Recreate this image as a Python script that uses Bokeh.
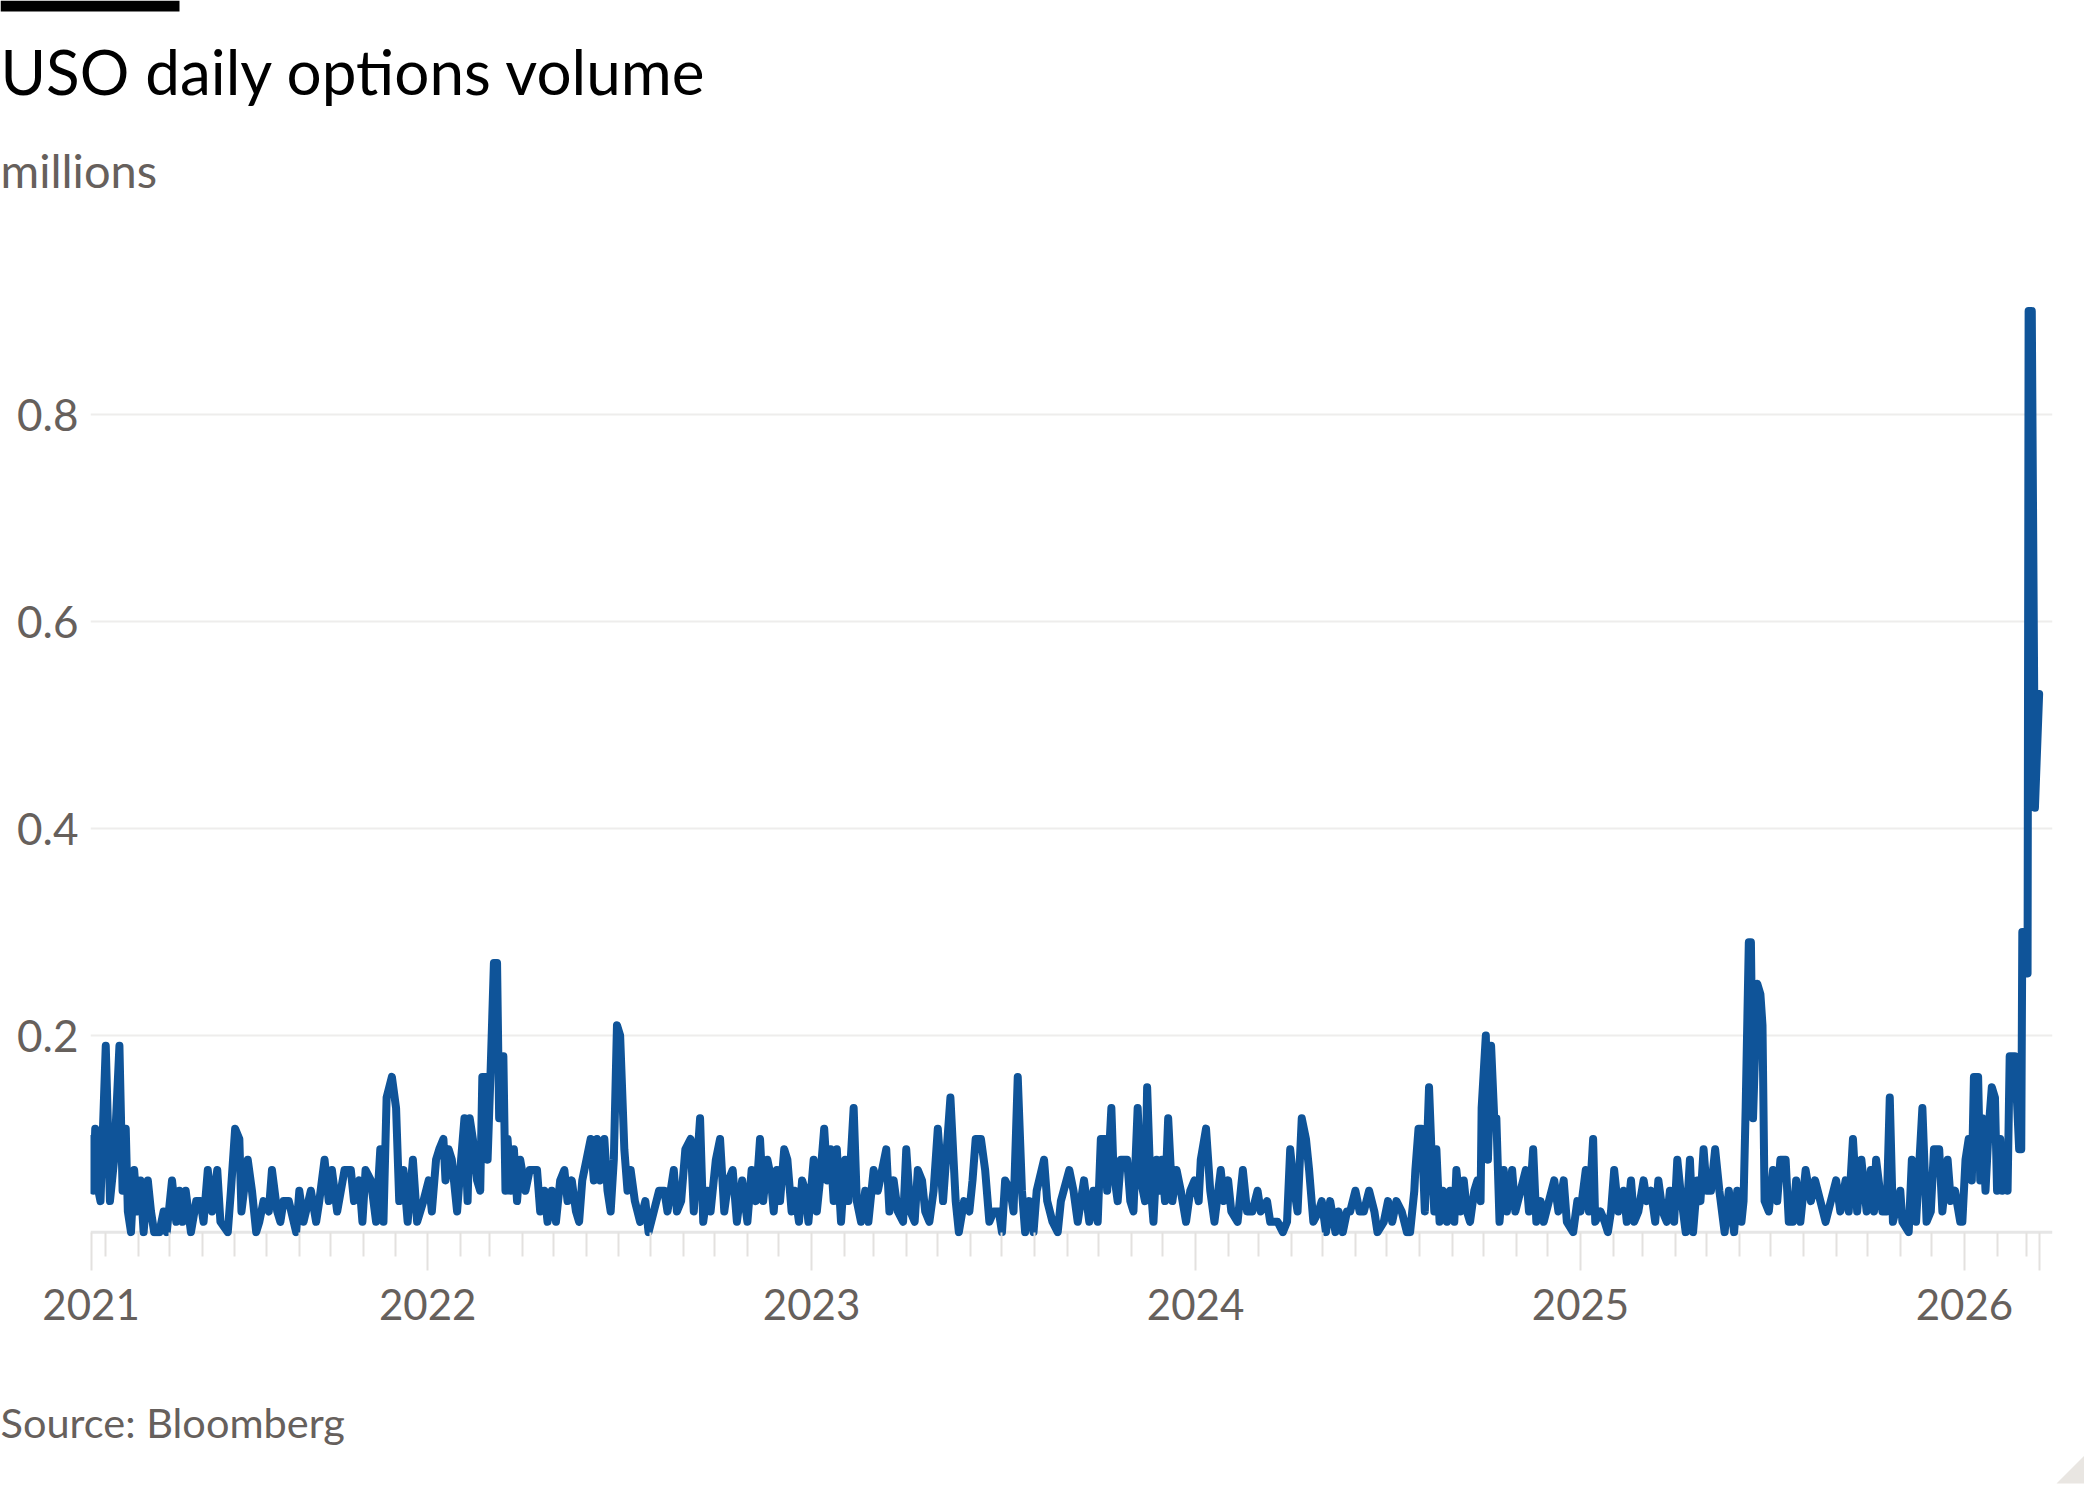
import pandas as pd
from bokeh.plotting import figure
from bokeh.models import ColumnDataSource, FixedTicker, Label, Span, BoxAnnotation, Range1d
from bokeh.layouts import column
from bokeh.embed import file_html
from bokeh.resources import INLINE

# ---------------- data ----------------
base_date = "2021-01-01"          # day offsets are counted from this date

day_offsets = [
    45, 46, 47, 49, 52, 54, 59, 63, 67, 72, 75, 78, 80, 83, 86, 89, 92, 95, 99, 102,
    105, 110, 114, 117, 122, 126, 129, 132, 135, 140, 145, 149, 152, 156, 160, 165, 168, 175, 178, 182,
    186, 188, 194, 198, 202, 205, 209, 214, 217, 222, 225, 228, 233, 240, 243, 247, 254, 259, 262, 267,
    271, 274, 279, 286, 292, 295, 300, 303, 306, 311, 316, 320, 323, 326, 331, 335, 338, 342, 346, 351,
    355,
    361, 366, 369, 373, 376, 380, 382, 385, 388, 393, 396, 400, 403, 405, 408, 412, 415, 417, 420, 422,
    425, 428, 431, 433, 437, 439, 441, 444, 447, 450, 453, 458, 462, 469, 472, 476, 479, 483, 487, 491,
    495, 498, 502, 506, 509, 512, 516, 520, 523, 526, 529, 533, 536, 539, 542, 545, 548, 552, 555, 558,
    562, 567, 572, 575, 580, 585, 590, 593, 599, 602, 606, 610, 615, 618, 624, 627, 631, 634, 639, 643,
    647, 651, 655, 659, 664, 669,
    673, 677, 681, 684, 688, 691, 694, 697, 700, 704, 707, 711, 714, 718, 721, 724, 727, 732, 735, 738,
    742, 745, 748, 751, 754, 758, 762, 765, 770, 773, 777, 781, 784, 789, 793, 797, 801, 804, 808, 812,
    817, 820, 824, 828, 831, 835, 838, 842, 846, 850, 855, 862, 867, 870, 875, 880, 883, 886, 891, 895,
    899, 903, 908, 911, 914, 919, 922, 926, 930, 933, 937, 941, 944, 951, 954, 959, 964, 967, 975, 979,
    983,
    989, 994, 998, 1002, 1005, 1009, 1011, 1015, 1017, 1021, 1024, 1030, 1033, 1036, 1040, 1043, 1047, 1049, 1052, 1055,
    1058, 1061, 1063, 1066, 1069, 1073, 1077, 1081, 1086, 1090, 1094, 1098, 1100, 1105, 1109, 1113, 1119, 1122, 1126, 1129,
    1135, 1140, 1144, 1149, 1154, 1157, 1163, 1166, 1173, 1178, 1182, 1185, 1189, 1192, 1196, 1200, 1203, 1207, 1212, 1215,
    1219, 1223, 1228, 1231, 1235, 1239, 1242, 1247, 1251, 1255, 1260, 1265, 1268, 1274, 1278, 1282, 1286, 1291, 1296,
    1299, 1303, 1304, 1307, 1310, 1313, 1317, 1320, 1322, 1324, 1327, 1330, 1334, 1337, 1341, 1343, 1347, 1350, 1353, 1356,
    1360, 1363, 1366, 1367, 1371, 1373, 1376, 1379, 1381, 1384, 1388, 1391, 1396, 1399, 1404, 1409, 1412, 1416, 1419, 1423,
    1426, 1431, 1436, 1440, 1445, 1448, 1454, 1458, 1461, 1466, 1469, 1473, 1475, 1480, 1484, 1487, 1490, 1493, 1497, 1502,
    1505, 1509, 1512, 1516, 1521, 1524, 1528, 1532, 1535, 1539, 1543, 1546, 1550, 1553, 1556, 1561, 1565, 1568, 1572, 1575,
    1578, 1581, 1585, 1589, 1593, 1598, 1602, 1607, 1610,
    1614, 1616, 1618, 1621, 1623, 1625, 1629, 1632, 1634, 1636, 1640, 1644, 1648, 1651, 1656, 1659, 1663, 1666, 1670, 1675,
    1680, 1684, 1689, 1694, 1699, 1704, 1708, 1713, 1716, 1720, 1724, 1728, 1733, 1737, 1740, 1742, 1748, 1752, 1755, 1758,
    1765, 1767, 1773, 1776, 1780, 1786, 1790, 1794, 1797, 1802, 1805, 1810, 1813, 1817, 1822,
    1824, 1827, 1830, 1833, 1835, 1839, 1841, 1843, 1846, 1849, 1852, 1855, 1857, 1860, 1862, 1864, 1867, 1869, 1874, 1878,
    1880, 1881, 1882, 1886, 1887, 1890, 1893, 1897,
]

volume_mn = [
    0.10, 0.09, 0.05, 0.11, 0.05, 0.04, 0.19, 0.04, 0.08, 0.19, 0.05, 0.11, 0.03, 0.01, 0.07, 0.03, 0.06, 0.01, 0.06, 0.03,
    0.01, 0.01, 0.03, 0.01, 0.06, 0.02, 0.05, 0.02, 0.05, 0.01, 0.04, 0.04, 0.02, 0.07, 0.03, 0.07, 0.02, 0.01, 0.05, 0.11,
    0.10, 0.03, 0.08, 0.05, 0.01, 0.02, 0.04, 0.03, 0.07, 0.03, 0.02, 0.04, 0.04, 0.01, 0.05, 0.02, 0.05, 0.02, 0.04, 0.08,
    0.04, 0.07, 0.03, 0.07, 0.07, 0.04, 0.06, 0.02, 0.07, 0.06, 0.02, 0.09, 0.02, 0.14, 0.16, 0.13, 0.04, 0.07, 0.02, 0.08,
    0.02,
    0.04, 0.06, 0.03, 0.08, 0.09, 0.10, 0.06, 0.09, 0.08, 0.03, 0.07, 0.12, 0.04, 0.12, 0.10, 0.06, 0.05, 0.16, 0.16, 0.08,
    0.17, 0.27, 0.27, 0.12, 0.18, 0.05, 0.10, 0.05, 0.09, 0.04, 0.08, 0.05, 0.07, 0.07, 0.03, 0.05, 0.02, 0.05, 0.02, 0.06,
    0.07, 0.04, 0.06, 0.03, 0.02, 0.06, 0.08, 0.10, 0.06, 0.10, 0.06, 0.10, 0.05, 0.03, 0.08, 0.21, 0.20, 0.09, 0.05, 0.07,
    0.04, 0.02, 0.04, 0.01, 0.03, 0.05, 0.05, 0.03, 0.07, 0.03, 0.04, 0.09, 0.10, 0.03, 0.12, 0.02, 0.05, 0.03, 0.08, 0.10,
    0.03, 0.06, 0.07, 0.02, 0.06, 0.02,
    0.07, 0.04, 0.10, 0.04, 0.08, 0.065, 0.03, 0.07, 0.04, 0.09, 0.08, 0.03, 0.05, 0.02, 0.06, 0.05, 0.02, 0.08, 0.03, 0.06,
    0.11, 0.06, 0.09, 0.04, 0.09, 0.02, 0.08, 0.04, 0.13, 0.04, 0.02, 0.05, 0.02, 0.07, 0.05, 0.07, 0.09, 0.03, 0.06, 0.03,
    0.02, 0.09, 0.03, 0.02, 0.07, 0.06, 0.03, 0.02, 0.05, 0.11, 0.04, 0.14, 0.04, 0.01, 0.04, 0.03, 0.06, 0.10, 0.10, 0.07,
    0.02, 0.03, 0.03, 0.01, 0.06, 0.05, 0.03, 0.16, 0.05, 0.01, 0.04, 0.01, 0.05, 0.08, 0.04, 0.02, 0.01, 0.04, 0.07, 0.05,
    0.02,
    0.06, 0.02, 0.05, 0.02, 0.10, 0.10, 0.05, 0.13, 0.07, 0.04, 0.08, 0.08, 0.04, 0.03, 0.13, 0.06, 0.04, 0.15, 0.06, 0.02,
    0.08, 0.05, 0.08, 0.04, 0.12, 0.04, 0.07, 0.05, 0.02, 0.05, 0.06, 0.04, 0.08, 0.11, 0.05, 0.02, 0.07, 0.04, 0.06, 0.03,
    0.02, 0.07, 0.03, 0.03, 0.05, 0.03, 0.04, 0.02, 0.02, 0.01, 0.02, 0.09, 0.05, 0.03, 0.12, 0.10, 0.07, 0.02, 0.03, 0.04,
    0.01, 0.04, 0.01, 0.03, 0.01, 0.03, 0.03, 0.05, 0.03, 0.03, 0.05, 0.03, 0.01, 0.02, 0.04, 0.02, 0.04, 0.03, 0.01,
    0.01, 0.05, 0.07, 0.11, 0.11, 0.03, 0.15, 0.07, 0.03, 0.09, 0.02, 0.05, 0.02, 0.05, 0.02, 0.07, 0.03, 0.06, 0.03, 0.02,
    0.05, 0.06, 0.04, 0.13, 0.20, 0.08, 0.19, 0.12, 0.12, 0.02, 0.07, 0.03, 0.07, 0.03, 0.05, 0.07, 0.03, 0.09, 0.02, 0.04,
    0.02, 0.04, 0.06, 0.03, 0.06, 0.02, 0.01, 0.04, 0.03, 0.07, 0.03, 0.10, 0.02, 0.03, 0.02, 0.01, 0.03, 0.07, 0.03, 0.05,
    0.02, 0.06, 0.02, 0.03, 0.06, 0.04, 0.05, 0.02, 0.06, 0.03, 0.02, 0.05, 0.02, 0.08, 0.05, 0.01, 0.08, 0.01, 0.06, 0.04,
    0.09, 0.05, 0.05, 0.09, 0.05, 0.01, 0.05, 0.01, 0.05,
    0.02, 0.04, 0.13, 0.29, 0.29, 0.12, 0.25, 0.24, 0.21, 0.04, 0.03, 0.07, 0.04, 0.08, 0.08, 0.02, 0.02, 0.06, 0.02, 0.07,
    0.04, 0.06, 0.04, 0.02, 0.04, 0.06, 0.03, 0.06, 0.03, 0.10, 0.03, 0.08, 0.03, 0.07, 0.03, 0.08, 0.03, 0.03, 0.14, 0.02,
    0.05, 0.02, 0.01, 0.08, 0.02, 0.13, 0.02, 0.03, 0.09, 0.09, 0.03, 0.08, 0.04, 0.05, 0.02,
    0.02, 0.08, 0.10, 0.06, 0.16, 0.16, 0.06, 0.12, 0.05, 0.11, 0.15, 0.14, 0.05, 0.10, 0.05, 0.09, 0.05, 0.18, 0.18, 0.09,
    0.09, 0.30, 0.30, 0.26, 0.90, 0.90, 0.42, 0.53,
]

y_tick_values = [0.2, 0.4, 0.6, 0.8]
year_tick_dates = ["2022-01-01", "2023-01-01", "2024-01-01", "2025-01-01", "2026-01-01"]
year_tick_labels = ["2022", "2023", "2024", "2025", "2026"]
first_tick_label = "2021"

title_text = "USO daily options volume"
subtitle_text = "millions"
source_text = "Source: Bloomberg"

# ---------------- styling ----------------
FONT = "Lato"
GREY = "#66605c"
BLUE = "#0f5499"
W = 2084
H_HEAD, H_MAIN, H_FOOT = 248, 1140, 96
MB_TOP, MB_BOTTOM, MB_LEFT, MB_RIGHT = 32, 152, 90, 32
PX_PER_UNIT = 1035.0      # pixels per 1.0 (million) on the y axis


def text_panel(h):
    f = figure(width=W, height=h, output_backend="svg", toolbar_location=None, tools="",
               x_range=Range1d(0, W), y_range=Range1d(h, 0), min_border=0,
               x_axis_location=None, y_axis_location=None)
    f.grid.visible = False
    f.outline_line_color = None
    f.background_fill_color = "white"
    f.border_fill_color = "white"
    try:
        f.frame_align = False
    except Exception:
        pass
    return f


# header: bar, title, subtitle
head = text_panel(H_HEAD)
head.add_layout(BoxAnnotation(left=0, right=179, top=0, bottom=11, fill_color="black",
                              fill_alpha=1.0, line_color=None))
head.add_layout(Label(x=0, y=70, text=title_text, text_font=FONT, text_font_size="62px",
                      text_color="#000000", text_baseline="alphabetic"))
head.add_layout(Label(x=0, y=169, text=subtitle_text, text_font=FONT, text_font_size="47px",
                      text_color=GREY, text_baseline="alphabetic"))

# main chart
dates = pd.Timestamp(base_date) + pd.to_timedelta(day_offsets, unit="D")
src = ColumnDataSource(dict(date=dates, vol=volume_mn))

frame_h = H_MAIN - MB_TOP - MB_BOTTOM
y_start = 6 / PX_PER_UNIT
p = figure(width=W, height=H_MAIN, x_axis_type="datetime", output_backend="svg",
           toolbar_location=None, tools="",
           min_border_left=MB_LEFT, min_border_right=MB_RIGHT,
           min_border_top=MB_TOP, min_border_bottom=MB_BOTTOM)
p.background_fill_color = "white"
p.border_fill_color = "white"
p.outline_line_color = None
p.y_range = Range1d(y_start, y_start + frame_h / PX_PER_UNIT)
p.x_range = Range1d(dates[0] - pd.Timedelta(days=0.5), dates[-1] + pd.Timedelta(days=12.7))

p.line("date", "vol", source=src, line_color=BLUE, line_width=8,
       line_join="round", line_cap="round")

# baseline at the lowest value
p.add_layout(Span(location=min(volume_mn), dimension="width", line_color="#e6e6e6",
                  line_width=3, level="underlay"))


def ms(ts):
    return float(pd.Timestamp(ts).value // 10**6)


major = [ms(dates[0])] + [ms(d) for d in year_tick_dates] + [ms(dates[-1])]
minor = [ms(d) for d in pd.date_range("2021-03-01", "2026-03-01", freq="MS") if d.month != 1]
p.xaxis.ticker = FixedTicker(ticks=major, minor_ticks=minor)
overrides = {major[0]: first_tick_label, major[-1]: ""}
for d, lab in zip(year_tick_dates, year_tick_labels):
    overrides[ms(d)] = lab
p.xaxis.major_label_overrides = overrides
p.xaxis.axis_line_color = None
p.xaxis.major_tick_line_color = "#e3e1df"
p.xaxis.minor_tick_line_color = "#e3e1df"
p.xaxis.major_tick_line_width = 2
p.xaxis.minor_tick_line_width = 2
p.xaxis.major_tick_in = 4
p.xaxis.major_tick_out = 34
p.xaxis.minor_tick_in = 4
p.xaxis.minor_tick_out = 20
p.xaxis.major_label_standoff = 18
p.xaxis.major_label_text_font = FONT
p.xaxis.major_label_text_font_size = "42px"
p.xaxis.major_label_text_color = GREY

p.yaxis.ticker = FixedTicker(ticks=y_tick_values)
p.yaxis.axis_line_color = None
p.yaxis.major_tick_line_color = None
p.yaxis.minor_tick_line_color = None
p.yaxis.major_label_standoff = 6
p.yaxis.major_label_text_font = FONT
p.yaxis.major_label_text_font_size = "44px"
p.yaxis.major_label_text_color = GREY

p.xgrid.grid_line_color = None
p.ygrid.ticker = FixedTicker(ticks=y_tick_values)
p.ygrid.grid_line_color = "#eeedec"
p.ygrid.grid_line_width = 2

# footer: source and the small corner mark at bottom right
foot = text_panel(H_FOOT)
foot.add_layout(Label(x=0, y=33, text=source_text, text_font=FONT, text_font_size="41.5px",
                      text_color=GREY, text_baseline="alphabetic"))
foot.patch(x=[W - 28, W, W], y=[H_FOOT - 1, H_FOOT - 29, H_FOOT - 1],
           fill_color="#e9e6e2", line_color=None)

layout = column(head, p, foot, spacing=0)
open("out.html", "w").write(file_html(layout, INLINE))
